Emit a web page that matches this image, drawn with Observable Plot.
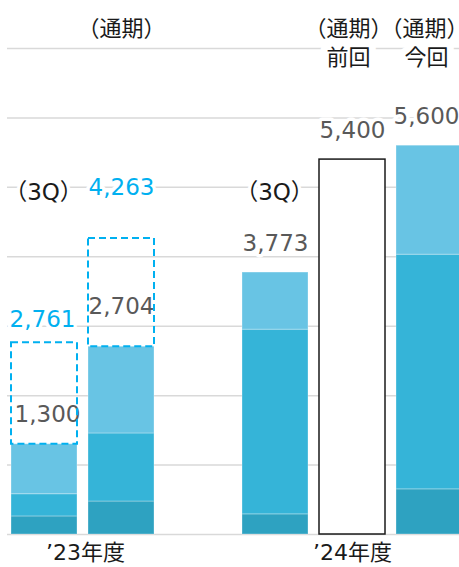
<!DOCTYPE html>
<html><head><meta charset="utf-8">
<script src="https://cdn.jsdelivr.net/npm/d3@7"></script>
<script src="https://cdn.jsdelivr.net/npm/@observablehq/plot@0.6"></script>
<style>
html,body{margin:0;padding:0;background:#fff;overflow:hidden;}
</style></head><body><div id="chart"></div>
<script>
// ---- data ----
const slots = ["23_3Q", "23_FY", "gap", "24_3Q", "24_prev", "24_now"];
const segNames = ["下段", "中段", "上段"];
const segBottom = [260, 475, null, 290, null, 650];
const segMiddle = [320, 980, null, 2660, null, 3380];
const segTop = [720, 1249, null, 823, null, 1570];
const totals = [1300, 2704, null, 3773, 5400, 5600];
const planSlots = ["23_3Q", "23_FY"];
const planValues = [2761, 4263];
const outlineSlot = "24_prev";
const gridTicks = [0, 1000, 2000, 3000, 4000, 5000, 6000, 7000];
const periodLabel = "（通期）";
const quarterLabel = "（3Q）";
const prevLabel = "前回";
const nowLabel = "今回";
const yearLabels = ["’23年度", "’24年度"];

// ---- derived tables ----
const stackData = [];
slots.forEach((s, i) => {
  [segBottom, segMiddle, segTop].forEach((arr, k) => {
    if (arr[i] != null) stackData.push({slot: s, seg: segNames[k], value: arr[i]});
  });
});
const totalOf = s => totals[slots.indexOf(s)];
const outlineData = [{slot: outlineSlot, value: totalOf(outlineSlot)}];
const planData = planSlots.map((s, i) => ({slot: s, from: totalOf(s), to: planValues[i]}));
const fmt = d3.format(",");
const lab = s => [{slot: s, value: totalOf(s), text: fmt(totalOf(s))}];
const planLab = i => [{slot: planSlots[i], value: planValues[i], text: fmt(planValues[i])}];

const NUM_FONT = "'DejaVu Sans', 'Noto Sans CJK JP', sans-serif";
const JP_FONT = "'Noto Sans CJK JP', sans-serif";
const MIX_FONT = "'DejaVu Sans', 'Noto Sans CJK JP', sans-serif";
const GRAY = "#595959", BLUE = "#00B0F0", INK = "#1a1a1a";
const halo = {stroke: "white", strokeWidth: 7, paintOrder: "stroke", strokeLinejoin: "round"};

const numText = (data, color, dx, dy) => Plot.text(data, {
  x: "slot", y: "value", text: "text", fill: color, dx, dy,
  fontSize: 23, fontFamily: NUM_FONT, ...halo
});
const hdr = (slot, text, dx, dy, opts = {}) => Plot.text([text], {
  x: () => slot, text: d => d, frameAnchor: "top", lineAnchor: "middle", dx, dy, fill: INK,
  fontSize: 22, fontFamily: JP_FONT, ...halo, ...opts
});

const chart = Plot.plot({
  width: 459, height: 567,
  marginTop: 48, marginBottom: 33, marginLeft: 7, marginRight: 0,
  style: {background: "white", overflow: "hidden"},
  x: {type: "band", domain: slots, range: [11, 462], paddingInner: 11/77, paddingOuter: 0, axis: null},
  y: {domain: [0, 7000], axis: null},
  color: {domain: segNames, range: ["#2EA2C1", "#35B4D8", "#68C4E4"]},
  marks: [
    Plot.ruleY(gridTicks, {stroke: "#d9d9d9", strokeWidth: 1.5}),
    Plot.barY(stackData, {x: "slot", y: "value", fill: "seg", stroke: "white", strokeOpacity: 0.3, strokeWidth: 1}),
    Plot.barY(outlineData, {x: "slot", y: "value", fill: "white", stroke: INK, strokeWidth: 1.5}),
    // value labels
    numText(lab("23_3Q"), GRAY, 3, -30),
    numText(lab("23_FY"), GRAY, 0, -40),
    numText(lab("24_3Q"), GRAY, 0, -29),
    numText(lab("24_prev"), GRAY, 0, -29),
    numText(lab("24_now"), GRAY, -3, -29),
    numText(planLab(0), BLUE, -2, -23),
    numText(planLab(1), BLUE, 0, -51),
    // headers
    hdr("23_FY", periodLabel, 0, -20),
    hdr("24_prev", periodLabel, -4, -20),
    hdr("24_now", periodLabel, -5, -20),
    hdr("24_prev", prevLabel, -4, 9, {strokeWidth: 14}),
    hdr("24_now", nowLabel, -3, 9, {strokeWidth: 14}),
    hdr("23_3Q", quarterLabel, -1, 144, {fontSize: 23, fontFamily: MIX_FONT}),
    hdr("24_3Q", quarterLabel, -1, 144, {fontSize: 23, fontFamily: MIX_FONT}),
    Plot.text([yearLabels[0]], {x: () => "23_3Q", text: d => d, frameAnchor: "bottom", lineAnchor: "middle",
      dx: 41, dy: 18, fill: INK, fontSize: 22, fontFamily: MIX_FONT}),
    Plot.text([yearLabels[1]], {x: () => "24_prev", text: d => d, frameAnchor: "bottom", lineAnchor: "middle",
      dx: 0, dy: 18, fill: INK, fontSize: 22, fontFamily: MIX_FONT}),
    // dashed plan boxes
    Plot.barY(planData, {x: "slot", y1: "from", y2: "to", fill: "none", stroke: BLUE, strokeWidth: 2, strokeDasharray: "7,4"})
  ]
});
// half-width punctuation for the period headers (as in the reference's narrower brackets)
d3.select(chart).selectAll("text")
  .filter(function() { return this.textContent.includes("通期"); })
  .style("font-feature-settings", '"halt"');
document.getElementById("chart").appendChild(chart);
</script>
</body></html>
